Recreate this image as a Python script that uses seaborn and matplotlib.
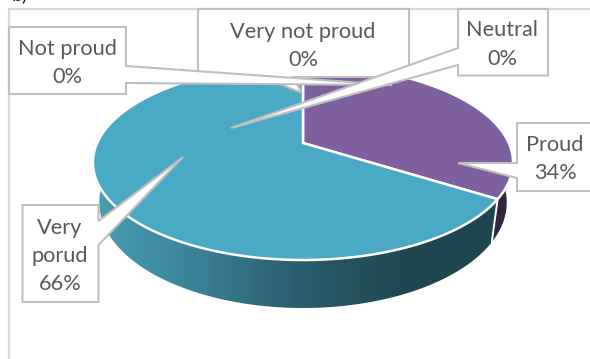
import numpy as np
import seaborn as sns
import matplotlib.pyplot as plt
from matplotlib.patches import Polygon

# chart values
labels = ['Proud', 'Very\nporud', 'Not proud', 'Very not proud', 'Neutral']
values = [34, 66, 0, 0, 0]

sns.set_theme(style='white')
plt.rcParams['font.family'] = ['Lato', 'DejaVu Sans']

top_colors = sns.color_palette(['#7F609E', '#4AA9C4'])
side_dark = '#33263F'
side_cmap = sns.blend_palette(['#4A9DB2', '#3A8096', '#2A5C6A', '#1F4650', '#1F4650'], as_cmap=True)
line_grey = '#BFBFBF'
text_grey = '#595959'

fig = plt.figure(figsize=(5.9, 3.59), dpi=100)
ax = fig.add_axes([0, 0, 1, 1])
ax.set_xlim(0, 590)
ax.set_ylim(359, 0)
ax.axis('off')

# tilted disc, the projection puts the apex away from the ellipse centre
cx, cy = 303, 143
b, a, k = 205.8, 93.6, 0.2
depth, shrink = 38.4, 0.97


def rim(t, bottom=False):
    u, v = np.sin(t), np.cos(t)
    w = 1 + k * v
    if bottom:
        return cx + b * u / w * shrink, cy - a * v / w + depth / w
    return cx + b * u / w, cy - a * v / w


# outer chart frame
ax.plot([9, 9, 590], [359, 9, 9], color='#D9D9D9', lw=1.6, zorder=1)

shares = np.array(values) / sum(values) * 2 * np.pi
starts = np.concatenate([[0], np.cumsum(shares)[:-1]])

# sides first, top faces over them
for i, (s, d) in enumerate(zip(starts, shares)):
    if d == 0:
        continue
    t = np.linspace(s, s + d, 200)
    x1, y1 = rim(t)
    x2, y2 = rim(t, bottom=True)
    pts = np.column_stack([np.r_[x1, x2[::-1]], np.r_[y1, y2[::-1]]])
    if i == 0:
        ax.add_patch(Polygon(pts, fc=side_dark, ec='none', zorder=2))
    else:
        poly = Polygon(pts, fc='none', ec='none', zorder=2)
        ax.add_patch(poly)
        grad = np.linspace(0, 1, 256).reshape(1, -1)
        im = ax.imshow(grad, cmap=side_cmap, extent=[95, 513, 359, 0], aspect='auto', zorder=2)
        im.set_clip_path(poly)

# white seam on the side at the wedge boundary
seam = starts[1]
xa, ya = rim(seam)
xb, yb = rim(seam, bottom=True)
ax.plot([xa, xb], [ya, yb], color='white', lw=1.4, zorder=3)

for i, (s, d) in enumerate(zip(starts, shares)):
    if d == 0:
        continue
    t = np.linspace(s, s + d, 200)
    x1, y1 = rim(t)
    pts = np.column_stack([np.r_[cx, x1], np.r_[cy, y1]])
    ax.add_patch(Polygon(pts, fc=top_colors[i], ec='white', lw=1.8, joinstyle='round', zorder=4))

ax.set_xlim(0, 590)
ax.set_ylim(359, 0)

# callouts: outline in pixel coordinates, drawn in stacking order
callouts = {
    'Very not proud': ([(198, 9), (409, 9), (409, 77), (293, 77), (302, 93), (263, 77), (198, 77)], (303, 46)),
    'Not proud': ([(9, 27), (126, 27), (126, 66), (392, 85), (126, 83), (126, 94), (9, 94)], (67, 63)),
    'Neutral': ([(458, 9), (548, 9), (548, 75.5), (458, 75.5), (458, 65), (231, 128), (458, 48)], (502, 44.5)),
    'Proud': ([(517, 123), (600, 123), (600, 191), (517, 191), (517, 178), (458, 163), (517, 163)], (555, 159)),
    'Very\nporud': ([(22.5, 205), (98.5, 205), (98.5, 221), (183, 157), (98.5, 245), (98.5, 302), (22.5, 302)], (60, 256)),
}
value_of = dict(zip(labels, values))
for z, (name, (outline, centre)) in enumerate(callouts.items()):
    ax.add_patch(Polygon(outline, fc='white', ec=line_grey, lw=1.5, joinstyle='miter', zorder=5 + z, clip_on=False))
    ax.text(centre[0], centre[1], f'{name}\n{value_of[name]}%', ha='center', va='center',
            color=text_grey, fontsize=15.7, linespacing=1.52, zorder=5 + z)

# cut off caption at the top edge
ax.text(12, 3, 'b)', fontsize=14, color='#222222', va='bottom', ha='left')

fig.savefig('out.png', dpi=100)
